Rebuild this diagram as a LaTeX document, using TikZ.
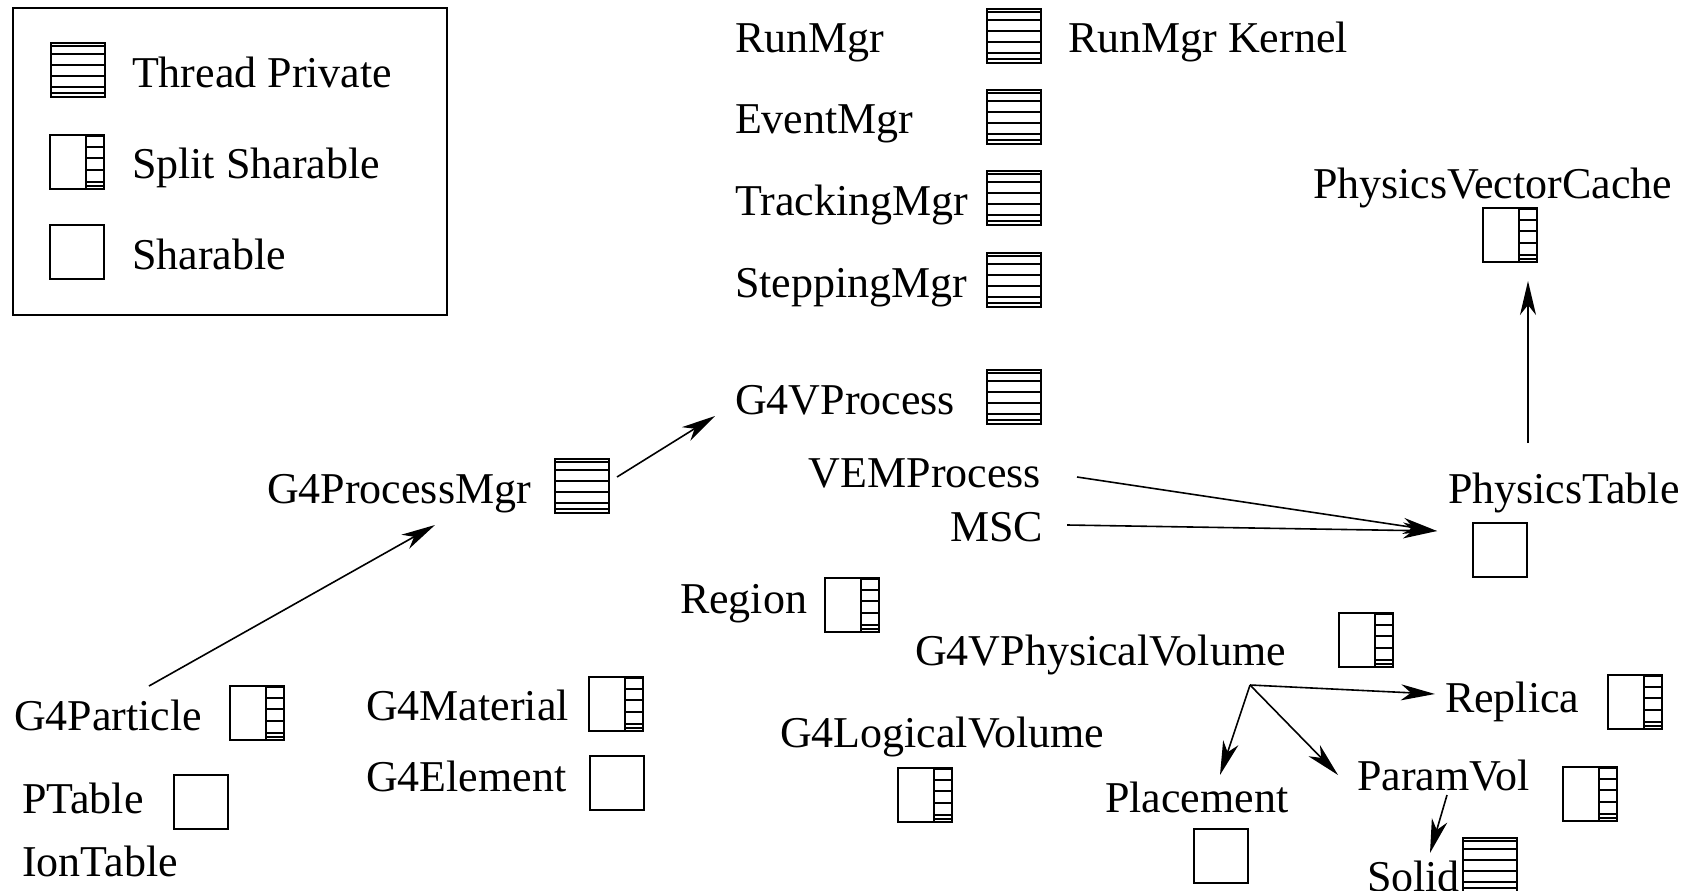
\documentclass[tikz,border=0pt]{standalone}
\usepackage{fontspec}
\setmainfont{Liberation Serif}
\usetikzlibrary{arrows.meta,calc}
\newcommand\lblfont{\fontsize{44pt}{53pt}\selectfont}
\tikzset{
  lbl/.style={anchor=base west, inner sep=0pt, outer sep=0pt, font=\lblfont},
  lblr/.style={anchor=base east, inner sep=0pt, outer sep=0pt, font=\lblfont},
  icon/.style={draw, line width=1.8pt, minimum width=54pt, minimum height=54pt, inner sep=0pt, outer sep=0pt},
  tp/.style={icon, path picture={
    \foreach \d in {3,11,22,33,44,50}
      \draw[line width=1.5pt] ([yshift=-\d pt]path picture bounding box.north west) -- ([yshift=-\d pt]path picture bounding box.north east);
  }},
  ss/.style={icon, path picture={
    \draw[line width=1.8pt] ([xshift=36pt]path picture bounding box.north west) -- ([xshift=36pt]path picture bounding box.south west);
    \foreach \d in {1.5,12,23,35,47,51}
      \draw[line width=1.5pt] ([xshift=36pt,yshift=-\d pt]path picture bounding box.north west) -- ([yshift=-\d pt]path picture bounding box.north east);
  }},
  sh/.style={icon},
  conn/.style={line width=1.6pt, -{Stealth[length=34pt, width=16pt, inset=10pt]}},
}
\begin{document}
\begin{tikzpicture}[x=1pt, y=-1pt]
\useasboundingbox (0,0) rectangle (1700,891);
\clip (0,0) rectangle (1700,891);

% legend
\node[draw, line width=1.8pt, minimum width=434pt, minimum height=307pt, inner sep=0pt] (legend) at (230,161.5) {};
\node[tp] (legtp) at (78,70) {};
\node[ss] (legss) at (77,162) {};
\node[sh] (legsh) at (77,252) {};
\node[lbl] (legtpl) at (132,88) {Thread Private};
\node[lbl] (legssl) at (132,178) {Split Sharable};
\node[lbl] (legshl) at (132,269) {Sharable};

% kernel column
\node[lbl] (runmgr) at (735,53) {RunMgr};
\node[tp] (runmgri) at (1014,36) {};
\node[lbl] (kernel) at (1068,53) {RunMgr Kernel};
\node[lbl] (eventmgr) at (735,133) {EventMgr};
\node[tp] (eventmgri) at (1014,117) {};
\node[lbl] (trackmgr) at (735,215) {TrackingMgr};
\node[tp] (trackmgri) at (1014,198) {};
\node[lbl] (stepmgr) at (735,297) {SteppingMgr};
\node[tp] (stepmgri) at (1014,280) {};

% processes
\node[lbl] (g4vp) at (735,414) {G4VProcess};
\node[tp] (g4vpi) at (1014,397) {};
\node[lblr] (vem) at (1041,487) {VEMProcess};
\node[lblr] (msc) at (1043,541) {MSC};

\node[lbl] (pvc) at (1313,198) {PhysicsVectorCache};
\node[ss] (pvci) at (1510,235) {};
\node[lbl] (ptab) at (1448,503) {PhysicsTable};
\node[sh] (ptabi) at (1500,550) {};

\node[lbl] (procmgr) at (267,503) {G4ProcessMgr};
\node[tp] (procmgri) at (582,486) {};

% particles
\node[lbl] (particle) at (14,730) {G4Particle};
\node[ss] (particlei) at (257,713) {};
\node[lbl] (ptable) at (22,813) {PTable};
\node[sh] (ptablei) at (201,802) {};
\node[lbl] (iontable) at (22,876) {IonTable};

% materials
\node[lbl] (material) at (366,720) {G4Material};
\node[ss] (materiali) at (616,704) {};
\node[lbl] (element) at (366,791) {G4Element};
\node[sh] (elementi) at (617,783) {};

% geometry
\node[lbl] (region) at (680,613) {Region};
\node[ss] (regioni) at (852,605) {};
\node[lbl] (physvol) at (915,665) {G4VPhysicalVolume};
\node[ss] (physvoli) at (1366,640) {};
\node[lbl] (logvol) at (780,747) {G4LogicalVolume};
\node[ss] (logvoli) at (925,795) {};
\node[lbl] (replica) at (1445,712) {Replica};
\node[ss] (replicai) at (1635,702) {};
\node[lbl] (placement) at (1105,812) {Placement};
\node[sh] (placementi) at (1221,856) {};
\node[lbl] (paramvol) at (1357,790) {ParamVol};
\node[ss] (paramvoli) at (1590,794) {};
\node[lbl] (solid) at (1367,891) {Solid};
\node[tp] (solidi) at (1490,865) {};

% connectors
\draw[conn] ([shift={(135,-44)}]particle.base west) -- ([shift={(168,22)}]procmgr.base west);
\draw[conn] ([shift={(8,-9)}]procmgri.east) -- ([shift={(-20,2)}]g4vp.base west);
\draw[conn] ([shift={(36,-10)}]vem.base east) -- ([shift={(-11,28)}]ptab.base west);
\draw[conn] ([shift={(24,-16)}]msc.base east) -- ([shift={(-11,28)}]ptab.base west);
\draw[conn] ([shift={(80,-60)}]ptab.base west) -- ([shift={(18,19)}]pvci.south);

\coordinate (fan) at ([shift={(335,20)}]physvol.base west);
\draw[conn] (fan) -- ([shift={(-10,-18)}]replica.base west);
\draw[conn] (fan) -- ([shift={(115,-37)}]placement.base west);
\draw[conn] (fan) -- ([shift={(-19,-15)}]paramvol.base west);
\draw[conn] ([shift={(90,5)}]paramvol.base west) -- ([shift={(63,-38)}]solid.base west);
\end{tikzpicture}
\end{document}
